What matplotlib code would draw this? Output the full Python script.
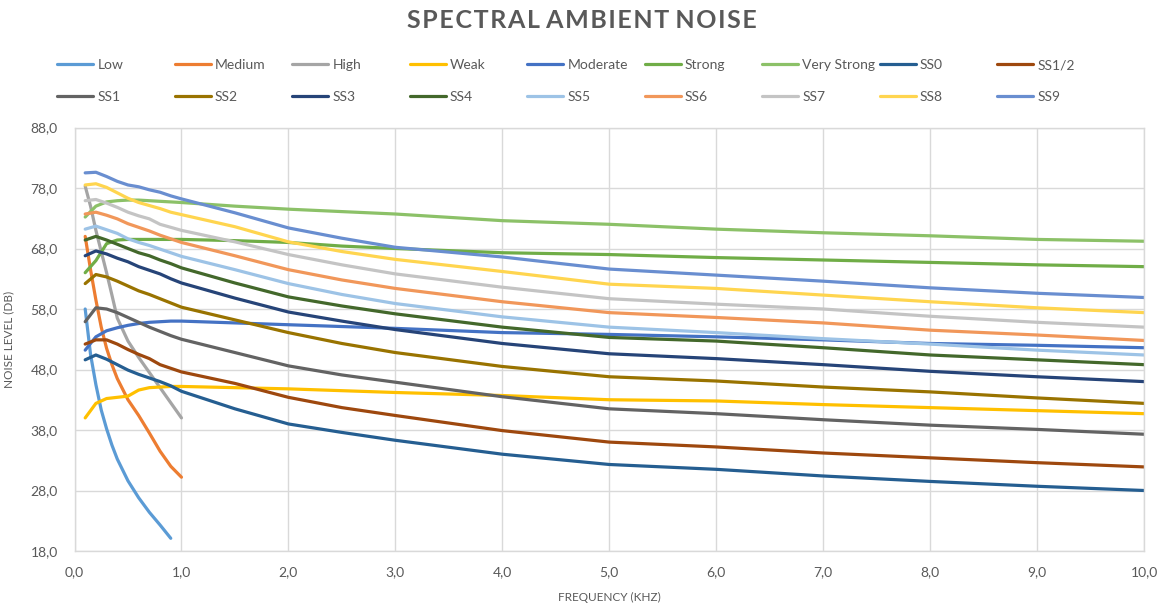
import numpy as np
import matplotlib
matplotlib.use("Agg")
import matplotlib.pyplot as plt

plt.rcParams['font.family'] = ['Lato', 'DejaVu Sans']

# frequencies (kHz) for the low-band series (Low / Medium / High)
low_freq = [0.1, 0.15, 0.2, 0.25, 0.3, 0.35, 0.4, 0.5, 0.6, 0.7, 0.8, 0.9, 1.0]
low = [58.0, 50.5, 45.5, 41.3, 38.2, 35.5, 33.2, 29.6, 26.8, 24.4, 22.3, 20.1, np.nan]
medium = [70.0, 64.5, 59.5, 55.0, 51.5, 48.8, 46.5, 43.0, 40.4, 37.5, 34.5, 32.0, 30.2]
high = [78.3, 75.0, 71.0, 67.5, 64.0, 60.3, 56.5, 52.7, 50.0, 47.5, 45.0, 42.5, 40.0]

# frequencies (kHz) for the broadband series
freq = [0.1, 0.2, 0.3, 0.4, 0.5, 0.6, 0.7, 0.8, 0.9, 1.0,
        1.5, 2.0, 2.5, 3.0, 4.0, 5.0, 6.0, 7.0, 8.0, 9.0, 10.0]
weak = [40.0, 42.4, 43.2, 43.4, 43.6, 44.6, 45.0, 45.1, 45.2, 45.2,
        45.0, 44.8, 44.5, 44.2, 43.7, 43.0, 42.8, 42.2, 41.7, 41.2, 40.7]
moderate = [51.2, 53.4, 54.4, 54.9, 55.3, 55.6, 55.8, 55.9, 56.0, 56.0,
            55.7, 55.4, 55.1, 54.8, 54.1, 53.8, 53.4, 52.9, 52.3, 52.0, 51.6]
strong = [64.0, 66.0, 68.8, 69.4, 69.5, 69.5, 69.5, 69.5, 69.5, 69.5,
          69.3, 69.0, 68.4, 68.0, 67.3, 67.0, 66.5, 66.1, 65.7, 65.3, 65.0]
very_strong = [73.2, 75.0, 75.7, 75.9, 76.0, 76.0, 75.9, 75.8, 75.7, 75.6,
               75.0, 74.5, 74.1, 73.7, 72.6, 72.0, 71.2, 70.6, 70.1, 69.5, 69.2]
ss0 = [49.6, 50.4, 49.7, 48.8, 47.9, 47.2, 46.6, 46.0, 45.3, 44.4,
       41.5, 39.0, 37.6, 36.3, 34.0, 32.3, 31.5, 30.4, 29.5, 28.7, 28.0]
ss_half = [52.2, 52.9, 52.9, 52.2, 51.3, 50.5, 49.8, 48.8, 48.2, 47.6,
           45.7, 43.4, 41.7, 40.4, 37.9, 36.0, 35.2, 34.2, 33.4, 32.6, 31.9]
ss1 = [55.9, 58.2, 58.0, 57.4, 56.6, 55.8, 55.0, 54.3, 53.6, 53.0,
       50.8, 48.6, 47.1, 45.9, 43.5, 41.5, 40.7, 39.7, 38.8, 38.1, 37.3]
ss2 = [62.2, 63.7, 63.3, 62.6, 61.8, 61.0, 60.4, 59.7, 59.0, 58.3,
       56.2, 54.1, 52.3, 50.8, 48.5, 46.8, 46.1, 45.1, 44.3, 43.3, 42.4]
ss3 = [66.8, 67.6, 67.1, 66.4, 65.8, 65.0, 64.4, 63.8, 63.0, 62.3,
       59.8, 57.5, 56.0, 54.6, 52.3, 50.6, 49.8, 48.8, 47.7, 46.8, 46.0]
ss4 = [69.4, 70.0, 69.4, 68.7, 68.0, 67.3, 66.8, 66.1, 65.5, 64.8,
       62.3, 60.0, 58.5, 57.2, 55.0, 53.3, 52.7, 51.6, 50.4, 49.6, 48.8]
ss5 = [71.2, 71.7, 71.1, 70.5, 69.6, 69.0, 68.5, 67.9, 67.3, 66.7,
       64.5, 62.2, 60.4, 58.9, 56.7, 55.0, 54.1, 53.1, 52.2, 51.2, 50.4]
ss6 = [73.7, 74.0, 73.5, 72.9, 72.1, 71.5, 70.9, 70.2, 69.6, 69.0,
       66.8, 64.5, 62.8, 61.4, 59.2, 57.4, 56.6, 55.7, 54.5, 53.7, 52.8]
ss7 = [75.9, 76.1, 75.5, 74.8, 74.0, 73.4, 72.9, 72.0, 71.5, 71.0,
       69.1, 67.0, 65.3, 63.8, 61.6, 59.7, 58.8, 58.0, 56.8, 55.8, 55.0]
ss8 = [78.5, 78.7, 78.1, 77.2, 76.3, 75.6, 75.1, 74.6, 74.0, 73.6,
       71.6, 69.1, 67.5, 66.2, 64.2, 62.1, 61.4, 60.3, 59.2, 58.2, 57.4]
ss9 = [80.5, 80.6, 79.9, 79.1, 78.5, 78.2, 77.7, 77.3, 76.7, 76.2,
       73.9, 71.4, 69.7, 68.2, 66.6, 64.6, 63.6, 62.6, 61.5, 60.6, 59.9]

series = [
    ('Low', low_freq, low, '#5B9BD5'),
    ('Medium', low_freq, medium, '#ED7D31'),
    ('High', low_freq, high, '#A5A5A5'),
    ('Weak', freq, weak, '#FFC000'),
    ('Moderate', freq, moderate, '#4472C4'),
    ('Strong', freq, strong, '#70AD47'),
    ('Very Strong', freq, very_strong, '#8CC168'),
    ('SS0', freq, ss0, '#255E91'),
    ('SS1/2', freq, ss_half, '#9E480E'),
    ('SS1', freq, ss1, '#636363'),
    ('SS2', freq, ss2, '#997300'),
    ('SS3', freq, ss3, '#264478'),
    ('SS4', freq, ss4, '#43682B'),
    ('SS5', freq, ss5, '#9DC3E6'),
    ('SS6', freq, ss6, '#F1975A'),
    ('SS7', freq, ss7, '#C4C4C4'),
    ('SS8', freq, ss8, '#FFD54F'),
    ('SS9', freq, ss9, '#698ED0'),
]

text_col = '#595959'
grid_col = '#D9D9D9'

fig = plt.figure(figsize=(11.63, 6.04), dpi=100)
ax = fig.add_axes([74.5 / 1163, 53 / 604, 1069.5 / 1163, 423.5 / 604])

handles = []
for name, x, y, c in series:
    h, = ax.plot(x, y, color=c, lw=2.3, label=name,
                 solid_joinstyle='round', solid_capstyle='round')
    handles.append(h)

ax.set_xlim(0, 10)
ax.set_ylim(18, 88)
ax.set_xticks(np.arange(0, 11, 1))
ax.set_yticks(np.arange(18, 89, 10))
ax.set_xticklabels([f'{v:.1f}'.replace('.', ',') for v in range(11)])
ax.set_yticklabels([f'{v:.1f}'.replace('.', ',') for v in range(18, 89, 10)])
ax.tick_params(length=0, colors=text_col, labelsize=10)
ax.tick_params(axis='x', pad=11)
ax.tick_params(axis='y', pad=12)
ax.grid(True, color=grid_col, lw=1)
ax.set_axisbelow(True)
for s in ax.spines.values():
    s.set_color(grid_col)
    s.set_linewidth(1)

ax.set_xlabel('FREQUENCY (KHZ)', fontsize=8.5, color=text_col, labelpad=10)
ax.set_ylabel('NOISE LEVEL (DB)', fontsize=8.5, color=text_col, labelpad=12)

fig.text(0.5, 1 - 21 / 604, 'S P E C T R A L   A M B I E N T   N O I S E'.replace(' ', '\u200a').replace('\u200a\u200a\u200a', ' '),
         ha='center', va='center', fontsize=18, fontweight='bold', color=text_col)

# legend: 9 columns x 2 rows on a uniform grid
for i in range(9):
    x0 = (57 + 117.5 * i) / 1163
    leg = fig.legend([handles[i], handles[i + 9]],
                     [series[i][0], series[i + 9][0]],
                     loc='upper left', bbox_to_anchor=(x0, 1 - 59 / 604),
                     frameon=False, fontsize=10, handlelength=2.6,
                     handletextpad=0.3, labelspacing=1.45,
                     borderpad=0, borderaxespad=0)
    for t in leg.get_texts():
        t.set_color(text_col)

fig.savefig('out.png', dpi=100)
